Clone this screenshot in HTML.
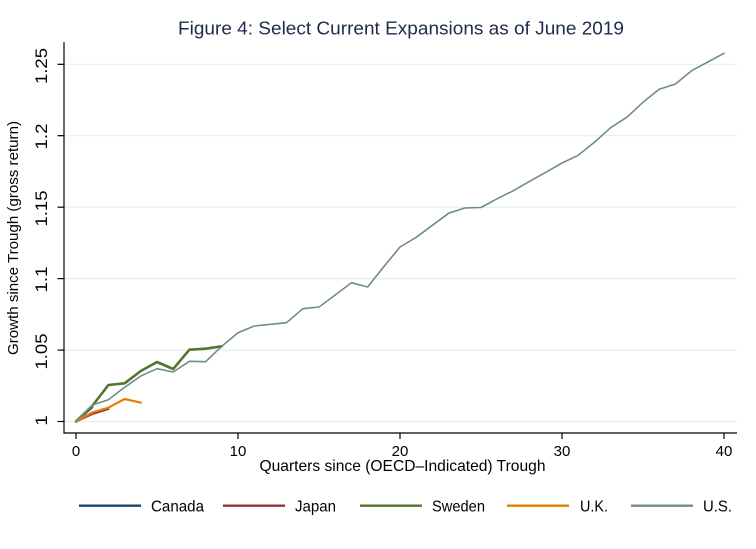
<!DOCTYPE html>
<html>
<head>
<meta charset="utf-8">
<style>
html,body{margin:0;padding:0;background:#fff;}
svg{display:block;font-family:"Liberation Sans",Arial,sans-serif;}
</style>
</head>
<body>
<svg width="756" height="549" viewBox="0 0 756 549" xmlns="http://www.w3.org/2000/svg">
<rect x="0" y="0" width="756" height="549" fill="#fff"/>
<!-- title -->
<text x="401" y="34.3" font-size="18.5" fill="#1e2b4d" text-anchor="middle" textLength="446" lengthAdjust="spacingAndGlyphs">Figure 4: Select Current Expansions as of June 2019</text>
<!-- gridlines -->
<g stroke="#e6edf1" stroke-width="1.2">
<line x1="64" y1="64.3" x2="737" y2="64.3"/>
<line x1="64" y1="135.7" x2="737" y2="135.7"/>
<line x1="64" y1="207.2" x2="737" y2="207.2"/>
<line x1="64" y1="278.6" x2="737" y2="278.6"/>
<line x1="64" y1="350.1" x2="737" y2="350.1"/>
<line x1="64" y1="421.5" x2="737" y2="421.5"/>
</g>
<!-- axes -->
<g stroke="#000" stroke-width="1.2" fill="none">
<line x1="64" y1="42" x2="64" y2="433.5"/>
<line x1="63.4" y1="433" x2="737" y2="433"/>
<line x1="57.5" y1="64.3" x2="64" y2="64.3"/>
<line x1="57.5" y1="135.7" x2="64" y2="135.7"/>
<line x1="57.5" y1="207.2" x2="64" y2="207.2"/>
<line x1="57.5" y1="278.6" x2="64" y2="278.6"/>
<line x1="57.5" y1="350.1" x2="64" y2="350.1"/>
<line x1="57.5" y1="421.5" x2="64" y2="421.5"/>
<line x1="76" y1="433" x2="76" y2="439"/>
<line x1="238" y1="433" x2="238" y2="439"/>
<line x1="400" y1="433" x2="400" y2="439"/>
<line x1="562" y1="433" x2="562" y2="439"/>
<line x1="724" y1="433" x2="724" y2="439"/>
</g>
<!-- y tick labels -->
<g font-size="16.5" fill="#000" text-anchor="middle">
<text transform="translate(47,66) rotate(-90)" textLength="36" lengthAdjust="spacingAndGlyphs">1.25</text>
<text transform="translate(47,136.5) rotate(-90)" textLength="26" lengthAdjust="spacingAndGlyphs">1.2</text>
<text transform="translate(47,208.5) rotate(-90)" textLength="36" lengthAdjust="spacingAndGlyphs">1.15</text>
<text transform="translate(47,279.5) rotate(-90)" textLength="26" lengthAdjust="spacingAndGlyphs">1.1</text>
<text transform="translate(47,351.5) rotate(-90)" textLength="36" lengthAdjust="spacingAndGlyphs">1.05</text>
<text transform="translate(47,420.5) rotate(-90)" textLength="10.5" lengthAdjust="spacingAndGlyphs">1</text>
</g>
<!-- y title -->
<text transform="translate(18,238) rotate(-90)" font-size="15" fill="#000" text-anchor="middle" textLength="234" lengthAdjust="spacingAndGlyphs">Growth since Trough (gross return)</text>
<!-- x tick labels -->
<g font-size="15" fill="#000" text-anchor="middle">
<text x="76" y="456">0</text>
<text x="238" y="456">10</text>
<text x="400" y="456">20</text>
<text x="562" y="456">30</text>
<text x="724" y="456">40</text>
</g>
<!-- x title -->
<text x="402.5" y="471" font-size="16" fill="#000" text-anchor="middle" textLength="286" lengthAdjust="spacingAndGlyphs">Quarters since (OECD–Indicated) Trough</text>
<!-- series -->
<g fill="none" stroke-linejoin="round" stroke-linecap="round">
<polyline stroke="#1a476f" stroke-width="2.2" points="76,421.5 92.2,407.3"/>
<polyline stroke="#90353b" stroke-width="2.2" points="76,421.5 92.2,414 108.4,409"/>
<polyline stroke="#55752f" stroke-width="2.6" points="76,421.5 92.2,406 108.4,385 124.6,383.3 140.8,371 157,362 173.2,369 189.4,349.7 205.6,348.7 221.8,346.3"/>
<polyline stroke="#e37e00" stroke-width="2.2" points="76,421.5 92.2,412.5 108.4,407.7 124.6,399 140.8,402.7"/>
<polyline stroke="#6e8e84" stroke-width="1.6" points="76,421.5 92.2,405 108.4,399.7 124.6,387.3 140.8,376 157,368.7 173.2,372 189.4,361.3 205.6,361.7 221.8,346.3 238,332.7 254.2,326 270.4,324.3 286.6,322.7 302.8,308.7 319,307 335.2,295 351.4,282.7 367.6,287 383.8,266.7 400,247 416.2,237.3 432.4,225.3 448.6,213.3 464.8,208 481,207.5 497.2,198.7 513.4,190.7 529.6,181.3 545.8,172.3 562,163 578.2,155.3 594.4,142.3 610.6,127.7 626.8,117.3 643,102.3 659.2,89.3 675.4,84 691.6,70.7 707.8,62 724,53.3"/>
</g>
<!-- legend -->
<g stroke-width="2.4">
<line x1="79" y1="505.7" x2="141" y2="505.7" stroke="#1a476f"/>
<line x1="223" y1="505.7" x2="285" y2="505.7" stroke="#90353b"/>
<line x1="360" y1="505.7" x2="422" y2="505.7" stroke="#55752f"/>
<line x1="507" y1="505.7" x2="569" y2="505.7" stroke="#e37e00"/>
<line x1="631" y1="505.7" x2="693" y2="505.7" stroke="#6e8e84"/>
</g>
<g font-size="16" fill="#000">
<text x="151" y="511.7" textLength="53" lengthAdjust="spacingAndGlyphs">Canada</text>
<text x="295" y="511.7" textLength="41" lengthAdjust="spacingAndGlyphs">Japan</text>
<text x="432" y="511.7" textLength="53" lengthAdjust="spacingAndGlyphs">Sweden</text>
<text x="580" y="511.7" textLength="28" lengthAdjust="spacingAndGlyphs">U.K.</text>
<text x="703" y="511.7" textLength="29" lengthAdjust="spacingAndGlyphs">U.S.</text>
</g>
</svg>
</body>
</html>
